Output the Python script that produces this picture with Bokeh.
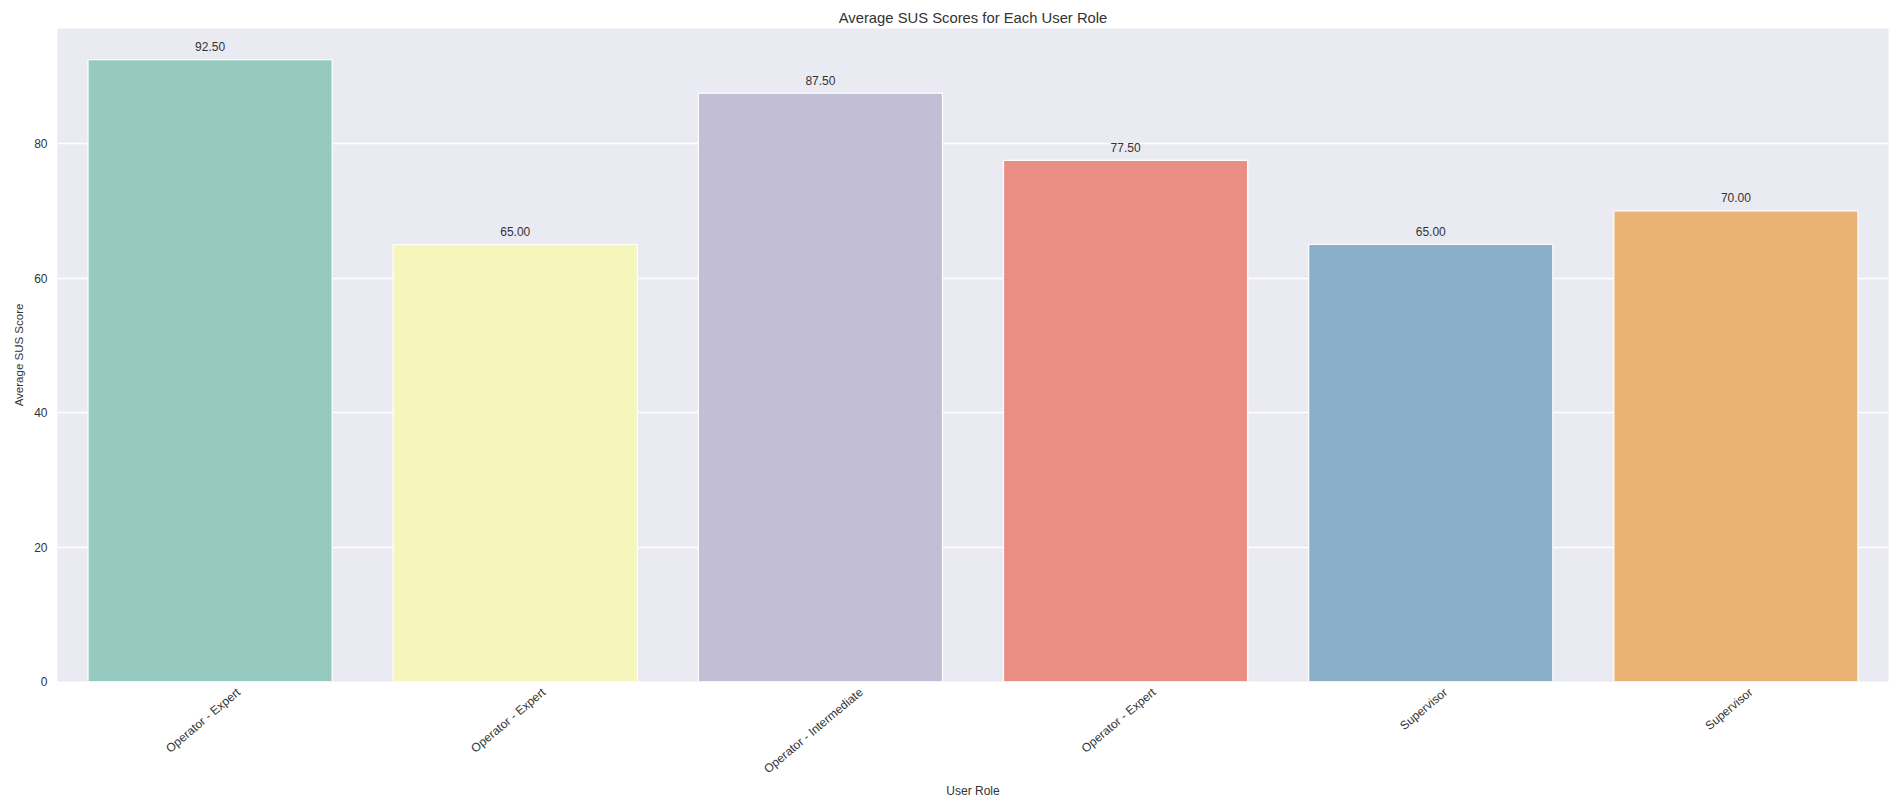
import math
from bokeh.plotting import figure
from bokeh.models import ColumnDataSource, FixedTicker, Range1d
from bokeh.core.properties import value
from bokeh.embed import file_html
from bokeh.resources import INLINE

# ---- data ----
roles = ["Operator - Expert", "Operator - Expert", "Operator - Intermediate",
         "Operator - Expert", "Supervisor", "Supervisor"]
scores = [92.5, 65.0, 87.5, 77.5, 65.0, 70.0]
colors = ["#96cac1", "#f6f6bc", "#c1bed6", "#ea8e83", "#8aafc9", "#eab375"]
y_ticks = [0, 20, 40, 60, 80]
title_text = "Average SUS Scores for Each User Role"
x_label = "User Role"
y_label = "Average SUS Score"

FONT = "Liberation Sans"
TEXT = "#333333"
BG = "#eaeaf2"

# approximate Arial/Liberation Sans advance widths (per 1000 em)
_W = {"O": 778, "p": 556, "e": 556, "r": 333, "a": 556, "t": 278, "o": 556, " ": 278,
      "-": 333, "E": 667, "x": 500, "I": 278, "n": 556, "m": 833, "d": 556, "i": 222,
      "S": 667, "u": 556, "v": 500, "s": 500}


def text_width(s, size):
    return sum(_W.get(c, 556) for c in s) / 1000.0 * size


W, H = 1896, 801
BL, BR, BT = 57, 8, 28
BB = H - 681
frame_w = W - BL - BR
n = len(roles)
px_per_unit = frame_w / n

xs = list(range(n))
src = ColumnDataSource(dict(x=xs, top=scores, color=colors,
                            label=[f"{v:.2f}" for v in scores]))

p = figure(width=W, height=H, output_backend="svg", toolbar_location=None,
           x_range=Range1d(-0.5, n - 0.5),
           y_range=Range1d(0, max(scores) * 1.05),
           min_border_left=BL, min_border_right=BR, min_border_top=BT,
           min_border_bottom=BB)

p.title.text = title_text
p.title.align = "center"
p.title.text_font = FONT
p.title.text_font_size = "14.8px"
p.title.text_font_style = "normal"
p.title.text_color = TEXT
p.title.standoff = 6

p.background_fill_color = BG
p.border_fill_color = "white"
p.outline_line_color = None

p.vbar(x="x", top="top", width=0.8, bottom=0, fill_color="color",
       line_color="white", line_width=1.2, source=src)

p.text(x="x", y="top", text="label", text_align="center", text_baseline="middle",
       y_offset=-13, text_font=value(FONT), text_font_size="12px",
       text_color=TEXT, source=src)

# grids
p.xgrid.visible = False
p.ygrid.grid_line_color = "white"
p.ygrid.grid_line_width = 1.3

# y axis
p.yaxis.ticker = FixedTicker(ticks=y_ticks)
p.yaxis.axis_line_color = None
p.yaxis.major_tick_line_color = None
p.yaxis.major_tick_out = 0
p.yaxis.major_tick_in = 0
p.yaxis.minor_tick_line_color = None
p.yaxis.minor_tick_out = 0
p.yaxis.major_label_standoff = 10
p.yaxis.major_label_text_font = FONT
p.yaxis.major_label_text_font_size = "12px"
p.yaxis.major_label_text_color = TEXT
p.yaxis.axis_label = y_label
p.yaxis.axis_label_text_font = FONT
p.yaxis.axis_label_text_font_size = "11.5px"
p.yaxis.axis_label_text_font_style = "normal"
p.yaxis.axis_label_text_color = TEXT
p.yaxis.axis_label_standoff = 6

# x axis: rotated category labels, tick positions nudged so each label's
# bounding box is centred on its bar (matplotlib-style centred rotation)
theta = math.radians(40)
fs = 12
tick_pos = []
overrides = {}
for i, r in enumerate(roles):
    w = text_width(r, fs)
    t = i + (w * math.cos(theta) / 2 - 7) / px_per_unit
    tick_pos.append(t)
    overrides[t] = r
p.xaxis.ticker = FixedTicker(ticks=tick_pos)
p.xaxis.major_label_overrides = overrides
p.xaxis.major_label_orientation = theta
p.xaxis.axis_line_color = None
p.xaxis.major_tick_line_color = None
p.xaxis.major_tick_out = 0
p.xaxis.major_tick_in = 0
p.xaxis.minor_tick_line_color = None
p.xaxis.minor_tick_out = 0
p.xaxis.major_label_standoff = 9
p.xaxis.major_label_text_font = FONT
p.xaxis.major_label_text_font_size = f"{fs}px"
p.xaxis.major_label_text_color = TEXT
p.xaxis.axis_label = x_label
p.xaxis.axis_label_text_font = FONT
p.xaxis.axis_label_text_font_size = "12px"
p.xaxis.axis_label_text_font_style = "normal"
p.xaxis.axis_label_text_color = TEXT
p.xaxis.axis_label_standoff = 0

open("out.html", "w").write(file_html(p, INLINE))
